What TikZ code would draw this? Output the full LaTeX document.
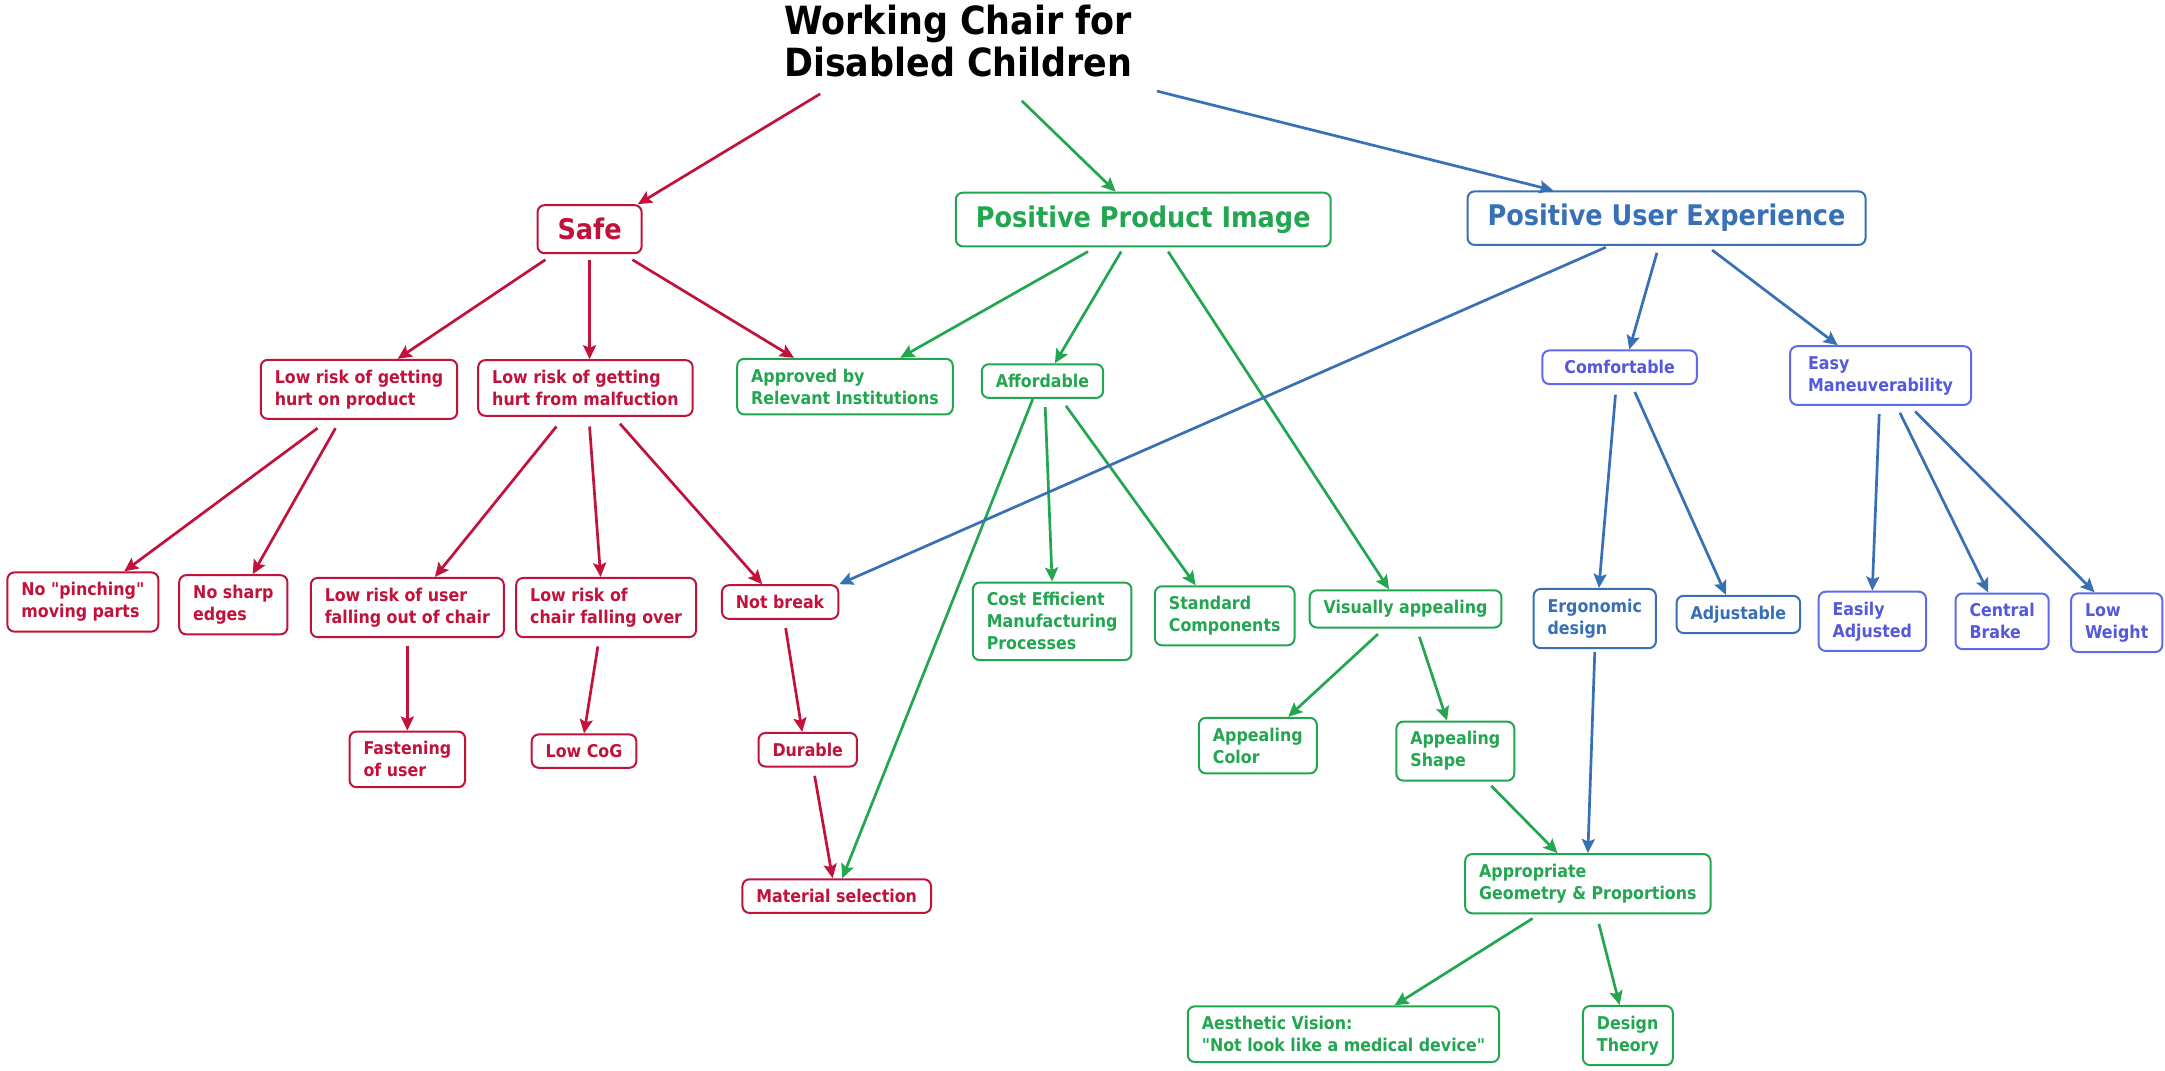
\documentclass[tikz,border=0pt]{standalone}
\usepackage{fontspec}
\setmainfont{DejaVu Sans Condensed}
\usepackage{tikz}
\usetikzlibrary{arrows.meta,calc}

\definecolor{rosso}{RGB}{193,18,60}
\definecolor{verde}{RGB}{34,166,80}
\definecolor{blu}{RGB}{56,112,182}
\definecolor{viola}{RGB}{92,108,232}
\definecolor{violatxt}{RGB}{84,88,220}

\begin{document}
\begin{tikzpicture}[x=0.69pt, y=-0.69pt]
\tikzstyle{box} = [draw, rounded corners=3.5pt, line width=1pt, fill=white, inner xsep=7pt, inner ysep=5pt, align=left, font=\fontsize{8.8}{11}\selectfont\bfseries]
\tikzstyle{capo} = [box, inner xsep=10pt, inner ysep=6.5pt, font=\fontsize{14.2}{16}\selectfont\bfseries]
\tikzstyle{rosso} = [draw=rosso, text=rosso]
\tikzstyle{verde} = [draw=verde, text=verde]
\tikzstyle{blu} = [draw=blu, text=blu]
\tikzstyle{viola} = [draw=viola, text=violatxt]
\tikzstyle{freccia} = [line width=1.35pt, -{Stealth[length=7pt, width=6.5pt, inset=1.3pt]}]

\useasboundingbox (0,0) rectangle (1568,775);

% Titolo
\node[align=center, font=\fontsize{19.4}{21}\selectfont\bfseries] (titolo) at (694,30) {Working Chair for\\Disabled Children};

% Livello 1
\node[capo, rosso] (safe) at (427,166) {Safe};
\node[capo, verde] (ppi) at (828,159) {Positive Product Image};
\node[capo, blu] (pue) at (1207,158) {Positive User Experience};

% Livello 2
\node[box, rosso] (lhp) at (260,282) {Low risk of getting\\hurt on product};
\node[box, rosso] (lhm) at (424,281) {Low risk of getting\\hurt from malfuction};
\node[box, verde] (appr) at (612,280) {Approved by\\Relevant Institutions};
\node[box, verde] (aff) at (755,276) {Affordable};
\node[box, viola, inner xsep=11pt] (comf) at (1173,266) {Comfortable};
\node[box, viola, inner xsep=9pt] (easy) at (1362,272) {Easy\\Maneuverability};

% Livello 3
\node[box, rosso] (pinch) at (60,436) {No \textquotedbl pinching\textquotedbl\\moving parts};
\node[box, rosso] (sharp) at (169,438) {No sharp\\edges};
\node[box, rosso] (fallout) at (295,440) {Low risk of user\\falling out of chair};
\node[box, rosso] (fallover) at (439,440) {Low risk of\\chair falling over};
\node[box, rosso] (notbreak) at (565,436) {Not break};
\node[box, verde] (cost) at (762,450) {Cost Efficient\\Manufacturing\\Processes};
\node[box, verde] (std) at (887,446) {Standard\\Components};
\node[box, verde] (visual) at (1018,441) {Visually appealing};
\node[box, blu] (ergo) at (1155,448) {Ergonomic\\design};
\node[box, blu] (adj) at (1259,445) {Adjustable};
\node[box, viola] (easyadj) at (1356,450) {Easily\\Adjusted};
\node[box, viola] (brake) at (1450,450) {Central\\Brake};
\node[box, viola] (weight) at (1533,451) {Low\\Weight};

% Livello 4
\node[box, rosso] (fasten) at (295,550) {Fastening\\of user};
\node[box, rosso] (cog) at (423,544) {Low CoG};
\node[box, rosso] (durable) at (585,543) {Durable};
\node[box, verde] (color) at (911,540) {Appealing\\Color};
\node[box, verde] (shape) at (1054,544) {Appealing\\Shape};

% Livello 5
\node[box, rosso] (matsel) at (606,649) {Material selection};
\node[box, verde] (geom) at (1150,640) {Appropriate\\Geometry \& Proportions};
\node[box, verde] (aesth) at (973,749) {Aesthetic Vision:\\\textquotedbl Not look like a medical device\textquotedbl};
\node[box, verde] (theory) at (1179,750) {Design\\Theory};

% --- Frecce dal titolo -------------------------------------------
\draw[freccia, rosso] ($(titolo)+(-100,38)$) -- ($(safe.north)+(35,0)$);
\draw[freccia, verde] ($(titolo)+(46,43)$) -- ($(ppi.north)+(-20,0)$);
\draw[freccia, blu] ($(titolo)+(144,36)$) -- ($(pue.north)+(-82,0)$);

% sorgente / scarto x,y / destinazione / scarto x
\foreach \s/\sx/\sy/\t/\ex in {safe/-32/4/lhp/28, safe/0/4/lhm/3, safe/31/4/appr/-37,
    lhp/-30/6/pinch/30, lhp/-17/6/sharp/14, lhm/-21/7/fallout/20, lhm/3/7/fallover/-4,
    lhm/25/5/notbreak/-13, fallout/0/6/fasten/0, fallover/-6/6/cog/0,
    notbreak/4/6/durable/-4, durable/5/6/matsel/-3} {
  \draw[freccia, rosso] ($(\s.south)+(\sx,\sy)$) -- ($(\t.north)+(\ex,0)$);
}

\foreach \s/\sx/\sy/\t/\ex in {ppi/-40/3/appr/40, ppi/-16/3/aff/9, ppi/18/3/visual/-12,
    aff/-7/0/matsel/4, aff/2/6/cost/0, aff/17/5/std/-21, visual/-20/4/color/22,
    visual/10/6/shape/-6, shape/26/3/geom/-22, geom/-40/3/aesth/37, geom/8/7/theory/-6} {
  \draw[freccia, verde] ($(\s.south)+(\sx,\sy)$) -- ($(\t.north)+(\ex,0)$);
}

\foreach \s/\sx/\sy/\t/\ex in {pue/-7/5/comf/7, pue/33/3/easy/-31, comf/-3/7/ergo/3,
    comf/11/5/adj/-9, easy/-1/6/easyadj/0, easy/14/5/brake/-10, easy/25/4/weight/-16,
    ergo/0/2/geom/0} {
  \draw[freccia, blu] ($(\s.south)+(\sx,\sy)$) -- ($(\t.north)+(\ex,0)$);
}
\draw[freccia, blu] ($(pue.south)+(-44,1)$) -- (notbreak.north east);

\end{tikzpicture}
\end{document}
